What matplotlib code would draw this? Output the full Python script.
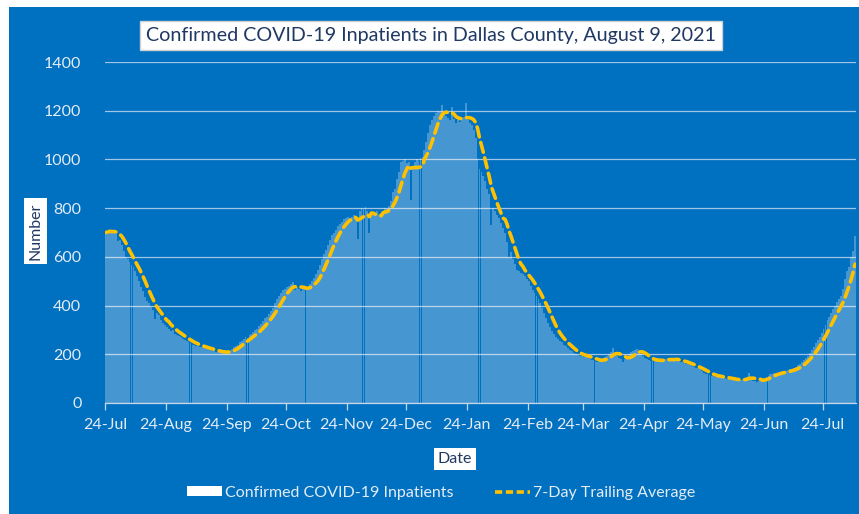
import matplotlib
matplotlib.use("Agg")
import matplotlib.pyplot as plt
from matplotlib.patches import Rectangle, Patch
from matplotlib.lines import Line2D
import pandas as pd

plt.rcParams["font.family"] = ["Lato", "DejaVu Sans"]

# ---------------- data ----------------
start_date = "2020-07-24"

# daily confirmed COVID-19 inpatients, 24 Jul 2020 - 31 Dec 2020
inpatients_2020 = [
    700, 705, 710, 700, 705, 695, 665,
    670, 650, 625, 600, 590, 580, 565,
    560, 540, 520, 500, 475, 460, 435,
    420, 410, 395, 380, 345, 370, 360,
    340, 330, 320, 310, 305, 295, 300,
    285, 280, 275, 270, 262, 258, 255,
    250, 245, 240, 238, 235, 232, 228,
    230, 225, 222, 220, 218, 215, 212,
    210, 208, 212, 205, 208, 210, 212,
    215, 222, 230, 235, 238, 250, 255,
    262, 270, 268, 280, 285, 290, 298,
    305, 315, 325, 335, 348, 355, 365,
    378, 390, 410, 425, 440, 450, 465,
    470, 475, 480, 490, 495, 465, 475,
    470, 460, 475, 480, 470, 475, 490,
    500, 515, 530, 545, 565, 590, 610,
    630, 650, 670, 690, 700, 710, 725,
    735, 745, 755, 760, 765, 760, 765,
    770, 760, 675, 790, 800, 795, 805,
    790, 700, 780, 785, 770, 790, 775,
    780, 790, 800, 795, 810, 830, 865,
    880, 920, 950, 990, 995, 1000, 985,
    990, 835, 970, 990, 1000, 995, 1005,
]

# daily confirmed COVID-19 inpatients, 1 Jan 2021 - 9 Aug 2021
inpatients_2021 = [
    1010, 1040, 1070, 1110, 1140, 1160, 1180,
    1190, 1200, 1195, 1225, 1190, 1180, 1170,
    1160, 1215, 1165, 1150, 1160, 1155, 1170,
    1175, 1230, 1160, 1150, 1140, 1120, 1090,
    1000, 960, 950, 930, 910, 880, 860,
    730, 800, 790, 770, 760, 740, 720,
    700, 660, 600, 620, 590, 570, 545,
    540, 535, 530, 520, 510, 500, 480,
    465, 450, 440, 425, 410, 390, 370,
    350, 330, 310, 295, 285, 270, 262,
    255, 250, 240, 232, 225, 218, 212,
    205, 200, 198, 195, 192, 190, 195,
    188, 180, 178, 175, 172, 170, 178,
    175, 185, 190, 195, 200, 210, 225,
    205, 195, 185, 180, 170, 182, 190,
    200, 210, 215, 218, 220, 210, 200,
    195, 185, 180, 175, 172, 178, 172,
    180, 175, 178, 172, 175, 180, 185,
    182, 178, 175, 180, 172, 168, 170,
    165, 162, 160, 155, 150, 148, 145,
    142, 138, 130, 125, 120, 118, 115,
    112, 110, 108, 105, 108, 106, 104,
    102, 100, 98, 96, 95, 98, 94,
    92, 96, 98, 100, 105, 123, 100,
    92, 90, 88, 92, 95, 98, 102,
    108, 112, 118, 120, 122, 125, 122,
    126, 128, 130, 132, 135, 138, 138,
    142, 148, 155, 162, 170, 178, 185,
    195, 205, 218, 230, 245, 258, 272,
    288, 305, 322, 340, 355, 370, 385,
    400, 415, 425, 440, 470, 510, 540,
    560, 600, 625, 685,
]

tick_dates = ["2020-07-24", "2020-08-24", "2020-09-24", "2020-10-24",
              "2020-11-24", "2020-12-24", "2021-01-24", "2021-02-24",
              "2021-03-24", "2021-04-24", "2021-05-24", "2021-06-24",
              "2021-07-24"]
tick_labels = ["24-Jul", "24-Aug", "24-Sep", "24-Oct", "24-Nov", "24-Dec",
               "24-Jan", "24-Feb", "24-Mar", "24-Apr", "24-May", "24-Jun",
               "24-Jul"]
y_ticks = [0, 200, 400, 600, 800, 1000, 1200, 1400]

title = "Confirmed COVID-19 Inpatients in Dallas County, August 9, 2021"
bar_label = "Confirmed COVID-19 Inpatients"
line_label = "7-Day Trailing Average"

# ---------------- derived ----------------
values = inpatients_2020 + inpatients_2021
dates = pd.date_range(start_date, periods=len(values), freq="D")
avg7 = pd.Series(values).rolling(7, min_periods=1).mean()

# ---------------- styling ----------------
W, H = 859, 514
BLUE = "#0070C0"
GOLD = "#FFC000"
NAVY = "#1F3864"
LIGHT = "#E4ECF6"
GRID = "#BFD5EE"

fig = plt.figure(figsize=(W / 100, H / 100), dpi=100, facecolor="white")
fig.patches.append(Rectangle((9 / W, 0), 1 - 9 / W, 1 - 7 / H,
                             transform=fig.transFigure, facecolor=BLUE,
                             edgecolor="none", zorder=-10))

ax = fig.add_axes([105 / W, 1 - 403 / H, 751 / W, 341 / H])
ax.set_facecolor("none")

ax.bar(dates, values, width=0.97, align="edge", color="white", alpha=0.28,
       linewidth=0, zorder=2)
ax.plot(dates + pd.Timedelta(hours=12), avg7, color=GOLD, lw=2.6,
        linestyle=(0, (2.8, 1.6)), dash_capstyle="round", zorder=3)

ax.set_xlim(dates[0], dates[-1] + pd.Timedelta(days=1))
ax.set_ylim(0, 1400)
ax.set_yticks(y_ticks)
ax.set_xticks(pd.to_datetime(tick_dates))
ax.set_xticklabels(tick_labels)

ax.yaxis.grid(True, color=GRID, lw=0.9, alpha=0.85, zorder=0)
ax.set_axisbelow(True)
for s in ["top", "right", "left"]:
    ax.spines[s].set_visible(False)
ax.spines["bottom"].set_color("#C8D6E6")
ax.spines["bottom"].set_linewidth(0.9)

ax.tick_params(axis="x", direction="out", length=5, width=0.9,
               color="#C8D6E6", labelcolor=LIGHT, labelsize=11.5, pad=6)
ax.tick_params(axis="y", length=0, labelcolor=LIGHT, labelsize=11.5, pad=17)

fig.text(431 / W, 1 - 35.5 / H, title, ha="center", va="center",
         fontsize=14.2, color=NAVY,
         bbox=dict(facecolor="white", edgecolor="#D0D0D0", pad=4.0))
fig.text(35.5 / W, 1 - 231 / H, "Number", rotation=90, ha="center",
         va="center", fontsize=11.5, color=NAVY,
         bbox=dict(facecolor="white", edgecolor="none", pad=3))
fig.text(455 / W, 1 - 459 / H, "Date", ha="center", va="center",
         fontsize=11.5, color=NAVY,
         bbox=dict(facecolor="white", edgecolor="none", pad=3))

handles = [Patch(facecolor="white", edgecolor="none"),
           Line2D([], [], color=GOLD, lw=2.6, linestyle=(0, (2.0, 1.0)))]
fig.legend(handles, [bar_label, line_label], loc="center",
           bbox_to_anchor=(441 / W, 1 - 493 / H), ncol=2, frameon=False,
           fontsize=11.5, labelcolor=LIGHT, handlelength=2.2,
           handleheight=0.6, handletextpad=0.2, columnspacing=2.6)

fig.savefig("out.png", dpi=100, facecolor="white")
